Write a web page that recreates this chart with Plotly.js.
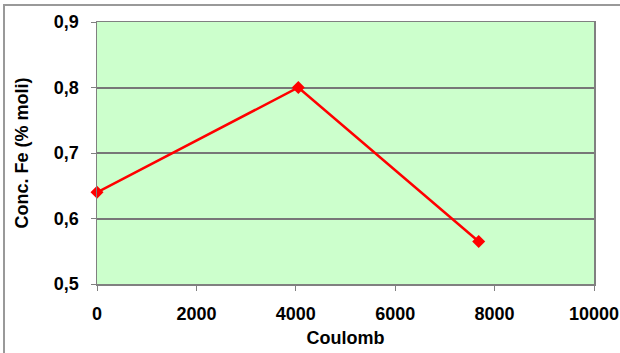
<!DOCTYPE html>
<html>
<head>
<meta charset="utf-8">
<script src="https://cdn.plot.ly/plotly-3.0.1.min.js"></script>
<style>html,body{margin:0;padding:0;background:#fff;}#chart{width:620px;height:353px;}</style>
</head>
<body>
<div id="chart"></div>
<script>
const coulomb = [0, 4050, 7680];
const concFe = [0.64, 0.80, 0.565];
const xTickVals = [0, 2000, 4000, 6000, 8000, 10000];
const xTickText = ['0', '2000', '4000', '6000', '8000', '10000'];
const yTickVals = [0.5, 0.6, 0.7, 0.8, 0.9];
const yTickText = ['0,5', '0,6', '0,7', '0,8', '0,9'];

const W = 620, H = 353, L = 97, R = 26, T = 22, B = 69;
const pw = W - L - R, ph = H - T - B;
const px = v => (v - L) / pw;
const py = v => (H - B - v) / ph;

const fontFam = '"Liberation Sans", Arial, sans-serif';
const FS = 18;
const bold = arr => arr.map(s => '<b>' + s + '</b>');
const trace = {
  x: coulomb, y: concFe, type: 'scatter', mode: 'lines+markers',
  line: {color: '#ff0000', width: 2.5},
  marker: {symbol: 'diamond', size: 10, color: '#ff0000'},
  cliponaxis: false,
  hoverinfo: 'none'
};
const layout = {
  width: W, height: H,
  margin: {l: L, r: R, t: T, b: B, pad: 0},
  paper_bgcolor: '#ffffff', plot_bgcolor: '#ccffcc',
  showlegend: false,
  font: {family: fontFam, size: FS, color: '#000'},
  xaxis: {
    range: [0, 10000], tickmode: 'array', tickvals: xTickVals, ticktext: bold(xTickText),
    showgrid: false, zeroline: false, showline: true, linecolor: '#808080', linewidth: 1.5, mirror: true,
    ticks: 'outside', ticklen: 5, tickcolor: '#808080', ticklabelstandoff: 8,
    tickfont: {family: fontFam, size: FS, color: '#000'},
    title: {text: '<b>Coulomb</b>', font: {family: fontFam, size: FS, color: '#000'}, standoff: 8}
  },
  yaxis: {
    range: [0.5, 0.9], tickmode: 'array', tickvals: yTickVals, ticktext: bold(yTickText),
    showgrid: true, gridcolor: '#777777', gridwidth: 2, zeroline: false,
    showline: true, linecolor: '#808080', linewidth: 1.5, mirror: true,
    ticks: 'outside', ticklen: 5, tickcolor: '#808080', ticklabelstandoff: 8,
    tickfont: {family: fontFam, size: FS, color: '#000'},
    title: {text: '<b>Conc. Fe (% moli)</b>', font: {family: fontFam, size: FS, color: '#000'}, standoff: 20}
  },
  shapes: [{
    type: 'rect', xref: 'paper', yref: 'paper',
    x0: px(4), x1: px(640), y0: py(380), y1: py(5),
    line: {color: '#999999', width: 2}, fillcolor: 'rgba(0,0,0,0)', layer: 'below'
  }]
};
Plotly.newPlot('chart', [trace], layout, {displayModeBar: false, staticPlot: true});
</script>
</body>
</html>
